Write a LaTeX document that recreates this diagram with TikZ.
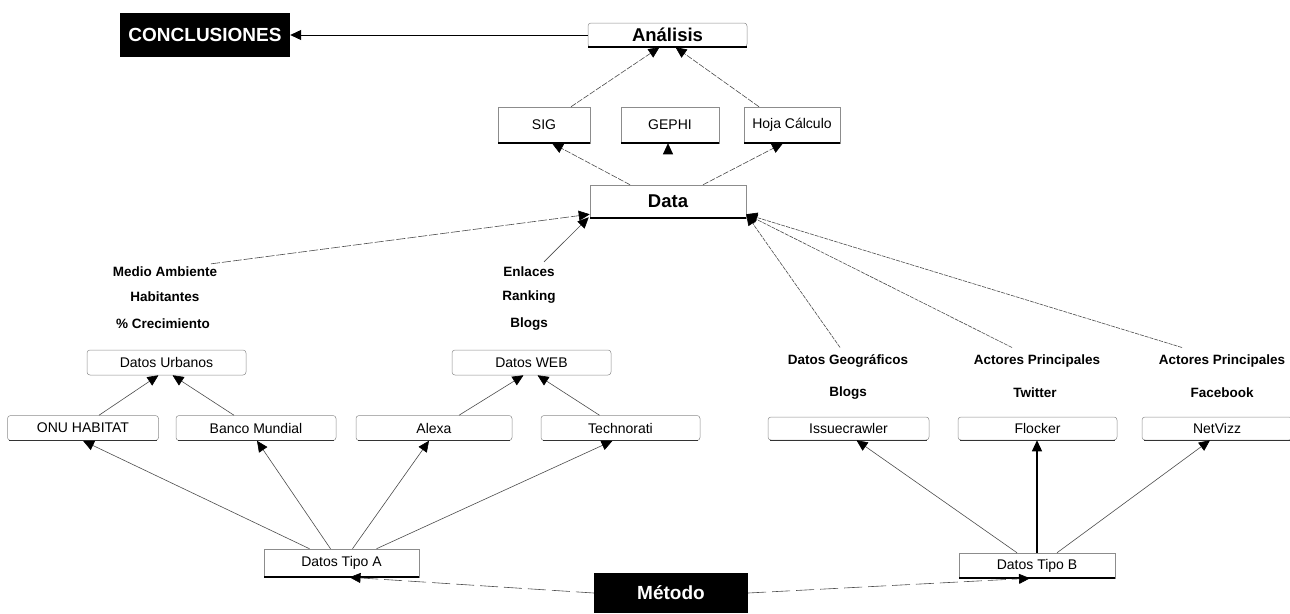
\documentclass[tikz,border=0pt]{standalone}
\usepackage{fontspec}
\setmainfont{Liberation Sans}
\usetikzlibrary{arrows.meta}
\begin{document}
\begin{tikzpicture}[x=1pt,y=-1pt,
  box/.style={draw=black!45, line width=0.5pt, fill=white, inner sep=0pt, font=\fontsize{14}{16}\selectfont},
  rbox/.style={box, rounded corners=3pt},
  blk/.style={fill=black, text=white, inner sep=0pt, font=\bfseries\fontsize{19}{22}\selectfont},
  ttl/.style={font=\bfseries\fontsize{18.5}{21}\selectfont},
  lbl/.style={inner sep=1pt, font=\bfseries\fontsize{13.5}{15}\selectfont},
  tip/.style={-{Triangle[length=11pt,width=10pt,color=black]}},
  conn/.style={tip, draw=black!70, line width=0.6pt},
  dconn/.style={conn, dash pattern=on 6pt off 1.5pt},
  mconn/.style={conn, dash pattern=on 18pt off 6pt},
  baseline/.style={line width=1.6pt, black, line cap=butt},
  lbase/.style={line width=1.1pt, black!80, line cap=butt}
]
\useasboundingbox (0,0) rectangle (1290,613);

% top
\node[blk, minimum width=170pt, minimum height=44pt] (concl) at (205,35) {CONCLUSIONES};
\node[rbox, ttl, minimum width=159pt, minimum height=24pt] (ana) at (667.5,35) {Análisis};
\node[box, minimum width=92pt, minimum height=36pt] (sig) at (544,125) {SIG};
\node[box, minimum width=98pt, minimum height=36pt] (gephi) at (670,125) {GEPHI};
\node[box, minimum width=96pt, minimum height=36pt] (hoja) at (792,125) {Hoja Cálculo};
\node[box, ttl, minimum width=156pt, minimum height=33pt] (data) at (668,201.5) {Data};

% left labels
\node[lbl] (ma) at (165,272) {Medio Ambiente};
\node[lbl] (hab) at (165,297) {Habitantes};
\node[lbl] (crec) at (163,324) {\% Crecimiento};
\node[lbl] (en) at (529,272) {Enlaces};
\node[lbl] (rk) at (529,297) {Ranking};
\node[lbl] (blA) at (529,324) {Blogs};

\node[rbox, minimum width=159pt, minimum height=25pt] (du) at (166.5,362.5) {Datos Urbanos};
\node[rbox, minimum width=159pt, minimum height=25pt] (dw) at (531.5,362.5) {Datos WEB};

\node[rbox, minimum width=151pt, minimum height=25pt] (onu) at (83,428) {ONU HABITAT};
\node[rbox, minimum width=160pt, minimum height=25pt] (banco) at (256,428) {Banco Mundial};
\node[rbox, minimum width=156pt, minimum height=25pt] (alexa) at (434,428) {Alexa};
\node[rbox, minimum width=159pt, minimum height=25pt] (tech) at (620.5,428) {Technorati};

% right labels
\node[lbl] (dg) at (848,361) {Datos Geográficos};
\node[lbl] (apA) at (1037,361) {Actores Principales};
\node[lbl] (apB) at (1222,361) {Actores Principales};
\node[lbl] (blB) at (848,393) {Blogs};
\node[lbl] (tw) at (1035,393) {Twitter};
\node[lbl] (fb) at (1222,393) {Facebook};

\node[rbox, minimum width=161pt, minimum height=23pt] (issue) at (848.5,428.5) {Issuecrawler};
\node[rbox, minimum width=159pt, minimum height=23pt] (flock) at (1037.5,428.5) {Flocker};
\node[rbox, minimum width=150pt, minimum height=23pt] (net) at (1217,428.5) {NetVizz};

% bottom
\node[box, minimum width=155pt, minimum height=28pt] (dta) at (341.5,563) {Datos Tipo A};
\node[box, minimum width=156pt, minimum height=25pt] (dtb) at (1037,565.5) {Datos Tipo B};
\node[blk, minimum width=154pt, minimum height=40pt] (metodo) at (671,593) {Método};

% bottom edges
\foreach \n in {ana,sig,gephi,hoja,data,dta,dtb}
  \draw[baseline] ([xshift=0.5pt]\n.south west) -- ([xshift=-0.5pt]\n.south east);
\foreach \n in {onu,banco,alexa,tech,issue,flock,net}
  \draw[lbase] ([xshift=2pt]\n.south west) -- ([xshift=-2pt]\n.south east);

% connectors top
\draw[tip, line width=1pt] (ana.west) -- (concl.east);
\draw[dconn] ([xshift=27pt]sig.north) -- ([xshift=-8pt]ana.south);
\draw[dconn] ([xshift=-33pt]hoja.north) -- ([xshift=8pt]ana.south);
\draw[dconn] ([xshift=-38pt]data.north) -- ([xshift=8pt]sig.south);
\draw[dconn] ([xshift=35pt]data.north) -- ([xshift=-9pt]hoja.south);
\draw[tip, draw=white, line width=0.6pt] (data.north -| gephi.south) ++(-2,0) -- ([xshift=-2pt]gephi.south);

% labels to data
\draw[dconn, dash pattern=on 9pt off 2pt] ([xshift=46pt,yshift=2pt]ma.north) -- ([yshift=4pt]data.south west);
\draw[conn] ([xshift=15pt,yshift=4pt]en.north) -- ([xshift=-1pt,yshift=1pt]data.south west);
\draw[dconn, dash pattern=on 4pt off 1pt] ([xshift=-8pt,yshift=6pt]dg.north) -- ([yshift=4pt]data.south east);
\draw[dconn, dash pattern=on 4pt off 1pt] ([xshift=-25pt,yshift=6pt]apA.north) -- ([yshift=4pt]data.south east);
\draw[dconn, dash pattern=on 4pt off 1pt] ([xshift=-40pt,yshift=6pt]apB.north) -- ([yshift=4pt]data.south east);

% sources to groups
\draw[conn] ([xshift=16pt]onu.north) -- ([xshift=-8pt]du.south);
\draw[conn] ([xshift=-22pt]banco.north) -- ([xshift=6pt]du.south);
\draw[conn] ([xshift=25pt]alexa.north) -- ([xshift=-8pt]dw.south);
\draw[conn] ([xshift=-21pt]tech.north) -- ([xshift=6pt]dw.south);

% tipo A / B
\draw[conn] ([xshift=-32pt]dta.north) -- (onu.south);
\draw[conn] ([xshift=-11pt]dta.north) -- ([xshift=1pt]banco.south);
\draw[conn] ([xshift=11pt]dta.north) -- ([xshift=-5pt]alexa.south);
\draw[conn] ([xshift=35pt]dta.north) -- ([xshift=-8pt]tech.south);
\draw[conn] ([xshift=-20pt]dtb.north) -- ([xshift=8pt]issue.south);
\draw[tip, line width=1.2pt, black] (dtb.north) -- (dtb.north |- flock.south);
\draw[conn] ([xshift=20pt]dtb.north) -- ([xshift=-7pt]net.south);

% metodo
\draw[mconn] (metodo.west) -- ([xshift=8pt]dta.south);
\draw[mconn] (metodo.east) -- ([xshift=-7pt]dtb.south);
\end{tikzpicture}
\end{document}
